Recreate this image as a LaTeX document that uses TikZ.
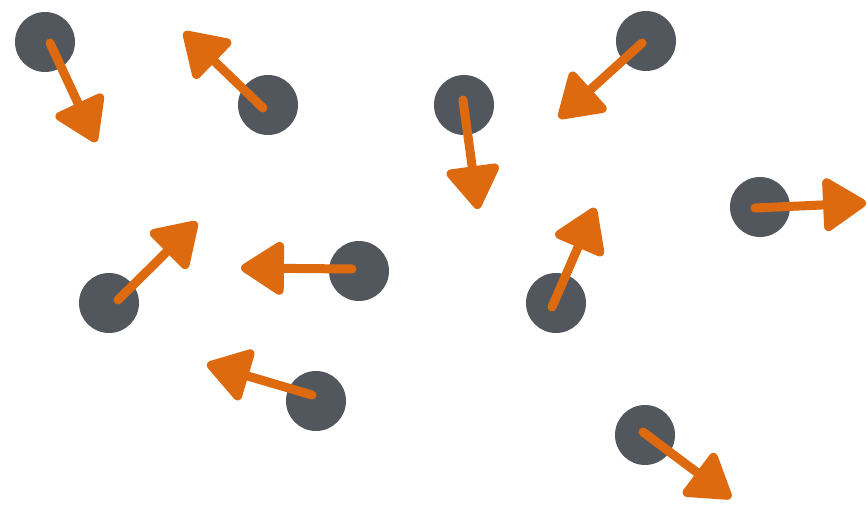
\documentclass[tikz,border=0pt]{standalone}
\usetikzlibrary{arrows.meta}
\definecolor{dotgray}{HTML}{52575E}
\definecolor{arrorange}{HTML}{DE6A10}
\begin{document}
\begin{tikzpicture}[x=1pt,y=-1pt,
  dot/.style={circle,fill=dotgray,minimum size=60pt,inner sep=0pt},
  arr/.style={draw=arrorange,line width=9pt,line cap=round,
    -{Triangle[length=47pt,width=58pt,round]}}]
\useasboundingbox (0,0) rectangle (868,505);
\node[dot] (n1) at (45,42) {};
\node[dot] (n2) at (268,105) {};
\node[dot] (n3) at (464,105) {};
\node[dot] (n4) at (646,41) {};
\node[dot] (n5) at (760,207) {};
\node[dot] (n6) at (109,303) {};
\node[dot] (n7) at (359,271) {};
\node[dot] (n8) at (556,303) {};
\node[dot] (n9) at (316,401) {};
\node[dot] (n10) at (645,435) {};
\coordinate (t1) at (96,142);
\coordinate (t2) at (184,32);
\coordinate (t3) at (478,209);
\coordinate (t4) at (559,118);
\coordinate (t5) at (866,203);
\coordinate (t6) at (197,222);
\coordinate (t7) at (241,268);
\coordinate (t8) at (595,208);
\coordinate (t9) at (207,364);
\coordinate (t10) at (731,498);
\draw[arr] ([shift={(5,1)}]n1.center) -- (t1);
\draw[arr] ([shift={(-5,3)}]n2.center) -- (t2);
\draw[arr] ([shift={(-1,-5)}]n3.center) -- (t3);
\draw[arr] ([shift={(-4,2)}]n4.center) -- (t4);
\draw[arr] ([shift={(-5,1)}]n5.center) -- (t5);
\draw[arr] ([shift={(9,-3)}]n6.center) -- (t6);
\draw[arr] ([shift={(-7,-2)}]n7.center) -- (t7);
\draw[arr] ([shift={(-4,4)}]n8.center) -- (t8);
\draw[arr] ([shift={(-4,-6)}]n9.center) -- (t9);
\draw[arr] ([shift={(-2,-3)}]n10.center) -- (t10);
\end{tikzpicture}
\end{document}
